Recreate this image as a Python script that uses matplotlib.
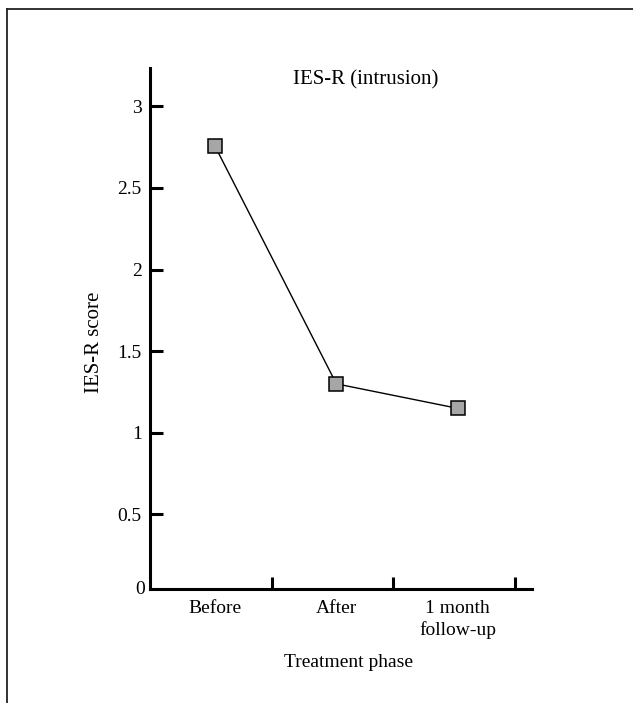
import numpy as np
import matplotlib
matplotlib.use("Agg")
import matplotlib.pyplot as plt
from matplotlib.lines import Line2D

# data
phases = ["Before", "After", "1 month\nfollow-up"]
scores = [2.755, 1.30, 1.15]
yticks = [0.5, 1, 1.5, 2, 2.5, 3]
ytick_labels = ["0.5", "1", "1.5", "2", "2.5", "3"]

plt.rcParams['font.family'] = ['Liberation Serif', 'DejaVu Serif']
plt.rcParams['font.size'] = 14

fig = plt.figure(figsize=(6.33, 7.03), dpi=100)
ax = fig.add_axes([0.237, 0.162, 0.603, 0.741])

x = np.arange(len(phases))
ax.plot(x, scores, color="black", lw=1.0, marker="s", markersize=10.5,
        markerfacecolor="#a6a6a6", markeredgecolor="black", markeredgewidth=1.1,
        zorder=3, clip_on=False)

ax.set_xlim(-0.536, 2.61)
ax.set_ylim(0.043, 3.233)

for s in ["top", "right"]:
    ax.spines[s].set_visible(False)
for s in ["left", "bottom"]:
    ax.spines[s].set_linewidth(2.2)

# y ticks point inward
ax.set_yticks(yticks)
ax.set_yticklabels(ytick_labels)
ax.tick_params(axis="y", direction="in", length=9, width=2.2, pad=6)
# zero label at the baseline
ax.text(-0.012, 0.0, "0", transform=ax.transAxes, ha="right", va="center")

# x ticks at category boundaries, labels at centres
ax.set_xticks([0.47, 1.47, 2.47])
ax.set_xticklabels([])
ax.tick_params(axis="x", which="major", direction="in", length=9, width=2.2)
ax.set_xticks(x, minor=True)
ax.set_xticklabels(phases, minor=True, linespacing=1.3)
ax.tick_params(axis="x", which="minor", length=0, pad=8)

ax.text(0.564, 0.977, "IES-R (intrusion)", transform=ax.transAxes,
        ha="center", va="center", fontsize=15)
fig.text(0.150, 0.513, "IES-R score", rotation=90, ha="center", va="center",
         fontsize=15)
fig.text(0.55, 0.057, "Treatment phase", ha="center", va="center")

# frame lines (top and left of the surrounding box)
fig.add_artist(Line2D([7 / 633, 1.0], [1 - 9 / 703, 1 - 9 / 703],
                      color="#222222", lw=1.3, transform=fig.transFigure))
fig.add_artist(Line2D([7 / 633, 7 / 633], [0.0, 1 - 9 / 703],
                      color="#222222", lw=1.3, transform=fig.transFigure))

fig.savefig("out.png", dpi=100)
